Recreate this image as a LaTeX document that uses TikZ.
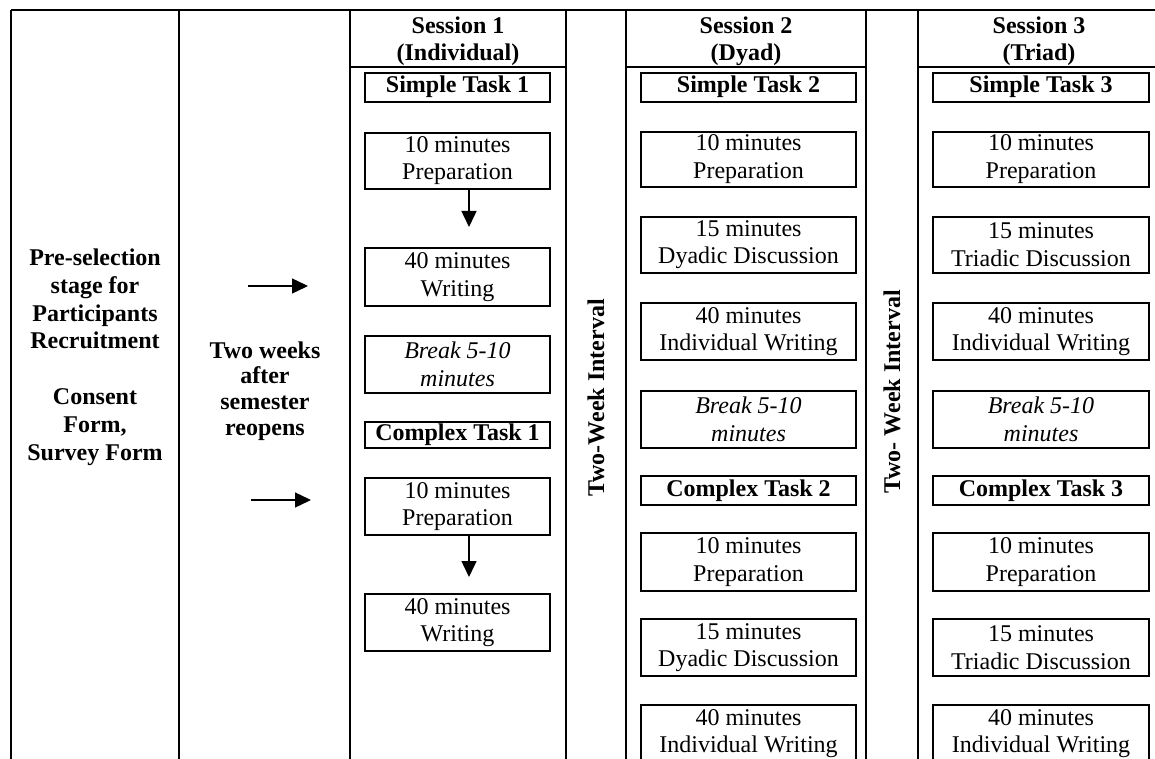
\documentclass[tikz,border=0pt]{standalone}
\usepackage{fontspec}
\setmainfont{Liberation Serif}
\usetikzlibrary{arrows.meta}
\newcommand\diagfont{\fontsize{12}{13.7}\selectfont}
% box given by its corners (in picture units): [style]{name}{x1}{y1}{x2}{y2}{text}
\newcommand\stagebox[7][stage]{%
  \pgfmathsetmacro\bxw{0.5*(#5-#3)}%
  \pgfmathsetmacro\bxh{0.5*(#6-#4)}%
  \pgfmathsetmacro\bxx{0.5*(#3+#5)}%
  \pgfmathsetmacro\bxy{0.5*(#4+#6)}%
  \node[#1, minimum width=\bxw pt, minimum height=\bxh pt] (#2) at (\bxx,\bxy) {#7};}
\begin{document}
\begin{tikzpicture}[x=0.5pt,y=-0.5pt,
  rule/.style={line width=1.2pt},
  thinrule/.style={line width=0.9pt},
  stage/.style={draw, line width=1pt, inner sep=0pt, align=center, font=\diagfont},
  boldstage/.style={stage, font=\diagfont\bfseries},
  breakstage/.style={stage, font=\diagfont\itshape},
  head/.style={align=center, font=\fontsize{12}{13.5}\selectfont\bfseries},
  arr/.style={line width=0.7pt, -{Triangle[length=8pt,width=7.5pt]}}]

\useasboundingbox (0,0) rectangle (1155,759);
\clip (0,0) rectangle (1155,759);

% table frame
\draw[rule] (11,10) -- (1155,10);
\foreach \x in {11,179,350,566,626,866,918}
  \draw[rule] (\x,10) -- (\x,762);
\draw[thinrule] (350,66.7) -- (566,66.7);
\draw[thinrule] (626,66.7) -- (866,66.7);
\draw[thinrule] (918,66.7) -- (1155,66.7);

% first two columns
\node[head, font=\fontsize{12}{13.9}\selectfont\bfseries] (pre) at (95,357)
  {Pre-selection\\stage for\\Participants\\Recruitment\\[13.9pt]Consent\\Form,\\Survey Form};
\node[head, font=\fontsize{12}{12.85}\selectfont\bfseries] (wait) at (265,391)
  {Two weeks\\after\\semester\\reopens};

\coordinate (a1s) at (248,286);
\coordinate (a1e) at (308,286);
\coordinate (a2s) at (251,500);
\coordinate (a2e) at (311,500);
\draw[arr] (a1s) -- (a1e);
\draw[arr] (a2s) -- (a2e);

% session headers
\node[head] (h1) at (458,41) {Session 1\\(Individual)};
\node[head] (h2) at (746,41) {Session 2\\(Dyad)};
\node[head] (h3) at (1039,41) {Session 3\\(Triad)};

% interval columns
\node[head, rotate=90] (gap1) at (596,398) {Two-Week Interval};
\node[head, rotate=90] (gap2) at (892,392) {Two- Week Interval};

% session 1
\stagebox[boldstage]{st1}{365}{72.7}{550}{101.7}{Simple Task 1}
\stagebox{p1}{365}{132.7}{550}{189}{10 minutes\\Preparation}
\stagebox{w1}{365}{248.3}{550}{305.7}{40 minutes\\Writing}
\stagebox[breakstage]{b1}{365}{335.7}{550}{392.7}{Break 5-10\\minutes}
\stagebox[boldstage]{ct1}{365}{421.7}{550}{448.3}{Complex Task 1}
\stagebox{p1b}{365}{477.7}{550}{535}{10 minutes\\Preparation}
\stagebox{w1b}{365}{594.3}{550}{651}{40 minutes\\Writing}

\coordinate (d1) at (469,227);
\coordinate (d2) at (469,577);
\draw[arr] (p1.south -| d1) -- (d1);
\draw[arr] (p1b.south -| d2) -- (d2);

% sessions 2 and 3
\foreach \c/\xa/\xb/\kind in {2/641/856/Dyadic, 3/933/1149/Triadic}{
  \stagebox[boldstage]{st\c}{\xa}{72.7}{\xb}{101.7}{Simple Task \c}
  \stagebox{pa\c}{\xa}{131.7}{\xb}{186.7}{10 minutes\\Preparation}
  \stagebox{da\c}{\xa}{216.7}{\xb}{272.7}{15 minutes\\\kind{} Discussion}
  \stagebox{wa\c}{\xa}{303.3}{\xb}{360}{40 minutes\\Individual Writing}
  \stagebox[breakstage]{br\c}{\xa}{390.7}{\xb}{447.7}{Break 5-10\\minutes}
  \stagebox[boldstage]{ct\c}{\xa}{475.7}{\xb}{505}{Complex Task \c}
  \stagebox{pb\c}{\xa}{533.3}{\xb}{590.7}{10 minutes\\Preparation}
  \stagebox{db\c}{\xa}{619.3}{\xb}{676}{15 minutes\\\kind{} Discussion}
  \stagebox{wb\c}{\xa}{705}{\xb}{762}{40 minutes\\Individual Writing}
}
\end{tikzpicture}
\end{document}
